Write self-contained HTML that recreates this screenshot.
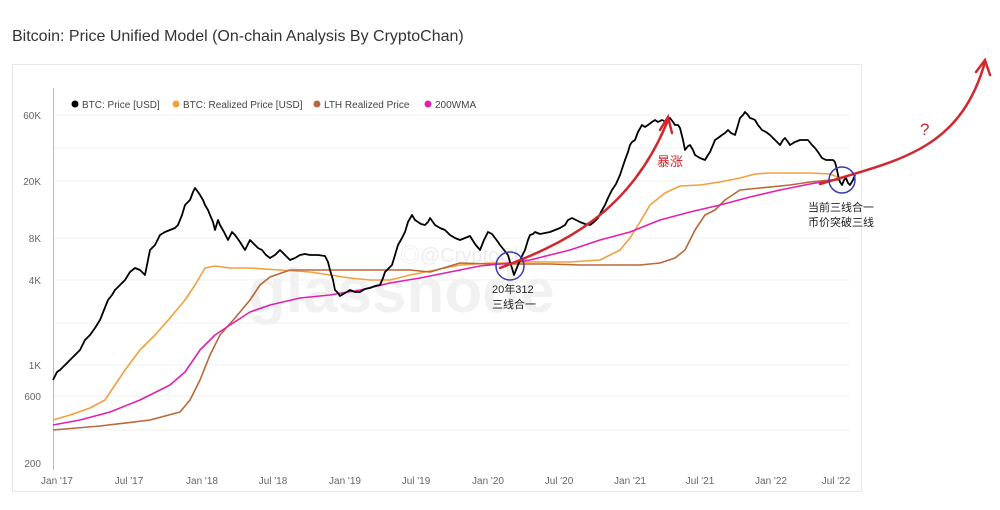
<!DOCTYPE html>
<html><head><meta charset="utf-8"><style>
body{margin:0;background:#fff;width:1000px;height:505px;overflow:hidden;font-family:"Liberation Sans","Noto Sans CJK SC",sans-serif}
</style></head><body>
<svg width="1000" height="505" viewBox="0 0 1000 505" xmlns="http://www.w3.org/2000/svg" font-family="Liberation Sans, Noto Sans CJK SC, sans-serif">
<text x="12" y="41" font-size="16" fill="#333">Bitcoin: Price Unified Model (On-chain Analysis By CryptoChan)</text>
<rect x="12.5" y="64.5" width="849" height="427" fill="#fff" stroke="#e8e8e8"/>
<g stroke="#f0f0f0" stroke-width="1">
<line x1="54" y1="115" x2="850" y2="115"/><line x1="54" y1="148" x2="850" y2="148"/><line x1="54" y1="181" x2="850" y2="181"/>
<line x1="54" y1="238" x2="850" y2="238"/><line x1="54" y1="280" x2="850" y2="280"/><line x1="54" y1="323" x2="850" y2="323"/>
<line x1="54" y1="365" x2="850" y2="365"/><line x1="54" y1="396" x2="850" y2="396"/><line x1="54" y1="430" x2="850" y2="430"/>
</g>
<line x1="53.5" y1="88" x2="53.5" y2="470" stroke="#bbb"/>
<g font-size="10" fill="#666" text-anchor="end">
<text x="41" y="119">60K</text><text x="41" y="185">20K</text><text x="41" y="242">8K</text><text x="41" y="284">4K</text>
<text x="41" y="369">1K</text><text x="41" y="400">600</text><text x="41" y="467">200</text>
</g>
<g font-size="10" fill="#666" text-anchor="middle">
<text x="57" y="484">Jan '17</text><text x="129" y="484">Jul '17</text><text x="202" y="484">Jan '18</text><text x="273" y="484">Jul '18</text>
<text x="345" y="484">Jan '19</text><text x="416" y="484">Jul '19</text><text x="488" y="484">Jan '20</text><text x="559" y="484">Jul '20</text>
<text x="630" y="484">Jan '21</text><text x="700" y="484">Jul '21</text><text x="771" y="484">Jan '22</text><text x="836" y="484">Jul '22</text>
</g>
<g font-size="10" fill="#444">
<circle cx="75" cy="104" r="3.5" fill="#000"/><text x="82" y="108">BTC: Price [USD]</text>
<circle cx="176" cy="104" r="3.5" fill="#f2a03d"/><text x="183" y="108">BTC: Realized Price [USD]</text>
<circle cx="317" cy="104" r="3.5" fill="#b8683a"/><text x="324" y="108">LTH Realized Price</text>
<circle cx="428" cy="104" r="3.5" fill="#e020b0"/><text x="435" y="108">200WMA</text>
</g>
<text x="248" y="312" font-size="62" fill="#f1f1f1" font-weight="bold">glassnode</text>
<text x="400" y="262" font-size="20" fill="#ececec">◎@CryptoChan</text>
<g fill="none" stroke-linejoin="round" stroke-width="1.6">
<polyline stroke="#f2a03d" points="53,420 70,415 90,408 105,400 115,385 125,370 140,350 155,335 170,318 185,300 195,285 205,268 215,266 230,268 250,268 280,270 310,272 330,275 350,278 370,280 390,280 410,275 430,271 460,265 490,263 510,263 530,262 550,262 570,262 600,260 620,250 630,238 640,222 650,205 665,193 680,186 700,185 720,182 740,178 755,174 770,173 790,173 810,173 830,174 840,178"/>
<polyline stroke="#b8683a" points="53,430 100,426 150,420 180,412 190,400 200,380 210,355 220,335 235,318 250,300 260,285 270,277 290,270 310,270 340,270 380,270 410,270 430,272 460,263 490,264 520,264 550,264 580,265 610,265 640,265 660,263 675,258 685,250 695,230 705,215 715,210 725,200 740,190 760,188 790,185 810,182 830,180 840,180"/>
<polyline stroke="#e020b0" points="53,425 80,420 110,412 140,400 170,385 185,372 200,350 215,335 230,325 250,312 270,305 300,298 330,295 360,290 390,283 420,278 450,272 480,266 510,263 530,260 550,255 570,250 600,240 630,232 660,220 690,212 720,205 750,197 780,190 810,184 840,179"/>
<polyline stroke="#000" stroke-width="1.8" points="53,380 57,372 60,370 65,365 70,360 75,355 80,350 85,340 90,335 95,328 100,320 104,310 108,300 112,295 115,290 120,285 125,280 130,272 135,268 140,270 145,275 150,250 155,245 160,235 165,232 170,230 175,228 178,225 182,215 185,205 188,202 190,200 193,192 195,188 198,192 200,195 203,200 205,205 208,210 210,215 213,222 215,230 218,220 220,225 224,232 228,240 232,232 235,235 240,242 245,250 248,244 250,240 255,245 258,248 262,250 266,255 270,258 275,255 280,250 285,255 290,260 295,258 300,255 305,254 310,255 318,255 325,256 328,262 330,270 333,280 335,290 338,293 340,296 345,293 350,290 355,292 360,292 365,289 370,288 375,286 380,285 383,278 385,272 389,268 392,265 395,255 398,245 402,238 405,232 408,222 412,215 415,220 418,222 421,224 425,225 428,222 430,218 435,225 440,228 445,230 450,235 455,238 460,240 465,238 470,236 475,244 480,250 484,240 488,232 492,234 495,238 498,242 500,245 504,250 508,255 510,262 512,268 514,275 516,270 518,265 521,258 525,250 528,240 530,235 533,234 535,232 540,234 545,233 550,232 555,230 560,228 565,225 568,220 572,218 576,220 580,222 585,224 590,225 594,222 598,218 601,212 605,205 608,198 612,190 616,184 620,175 623,166 625,160 628,152 630,145 632,142 635,140 638,132 642,125 645,127 648,125 652,122 655,120 658,122 662,120 666,122 670,118 673,122 675,125 678,125 680,128 683,140 685,150 688,146 690,145 693,150 695,155 700,158 705,160 708,155 710,152 713,145 715,140 718,138 722,135 725,133 728,130 731,133 735,135 738,125 740,118 743,115 745,112 748,115 750,118 753,119 755,120 758,125 762,130 766,132 770,135 773,138 775,140 778,143 780,145 783,140 785,138 788,142 790,145 795,142 800,140 805,140 808,140 812,145 815,148 818,152 822,158 826,160 830,160 833,160 835,162 837,170 838,175 840,182 842,185 844,180 846,178 848,183 850,185 853,180 855,175"/>
</g>
<g fill="none" stroke="#d0282f" stroke-width="2.5" stroke-linecap="round">
<path d="M500,268 C560,245 630,215 668,120"/>
<path d="M660,130 L668,117 L672,133"/>
<path d="M820,184 C900,160 960,150 985,62"/>
<path d="M976,72 L985,60 L990,75"/>
</g>
<text x="657" y="166" font-size="13" fill="#d0282f">暴涨</text>
<text x="920" y="135" font-size="17" fill="#d0282f">?</text>
<circle cx="510" cy="266" r="14" fill="none" stroke="#3a3ab0" stroke-width="1.5"/>
<circle cx="842" cy="180" r="13" fill="none" stroke="#3a3ab0" stroke-width="1.5"/>
<g font-size="11" fill="#222">
<text x="492" y="293">20年312</text><text x="492" y="308">三线合一</text>
<text x="808" y="211">当前三线合一</text><text x="808" y="226">币价突破三线</text>
</g>
</svg>
</body></html>
